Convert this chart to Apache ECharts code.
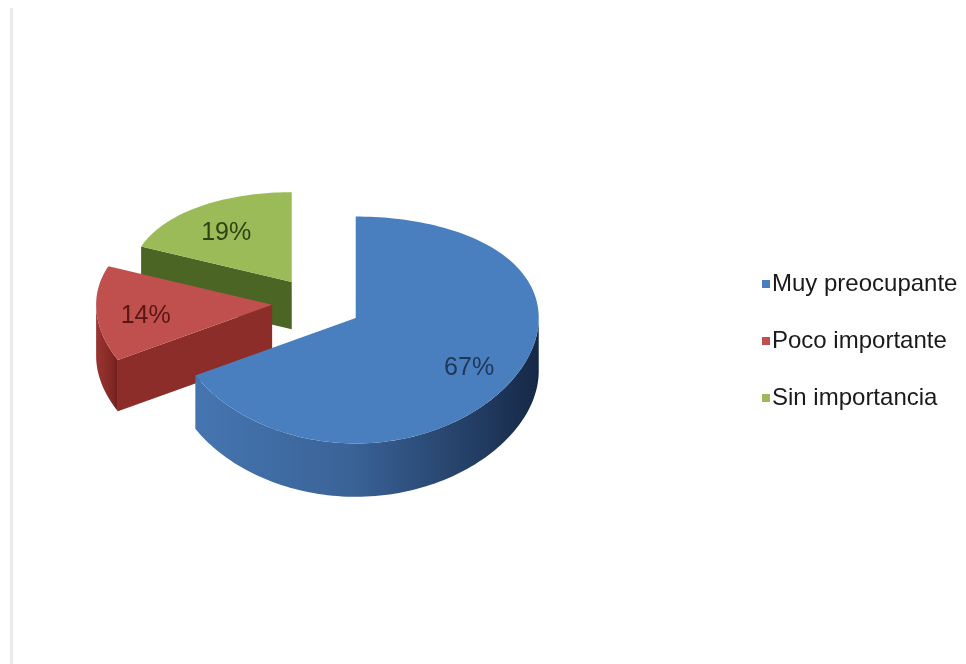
<!DOCTYPE html>
<html>
<head>
<meta charset="utf-8">
<script src="https://cdn.jsdelivr.net/npm/echarts@6/dist/echarts.min.js"></script>
<style>
  html, body { margin: 0; padding: 0; background: #ffffff; }
  #chart { width: 966px; height: 664px; }
</style>
</head>
<body>
<div id="chart"></div>
<script>
// Survey answers and their shares (percent)
const categories = ['Muy preocupante', 'Poco importante', 'Sin importancia'];
const shares = [67, 14, 19];

// Palette: top face, side walls, label ink
const topColors = ['#4a7fbf', '#c0504d', '#9bbb59'];
const wallColors = [
  ['#4575b0', '#3a6398', '#243f66', '#162846'],
  ['#9a3330', '#8c2d2a', '#7f2522', '#6e1f1c'],
  ['#52702a', '#4b6524', '#40581f', '#374c1a']
];
const labelColors = ['#1f3658', '#5a1613', '#2f4214'];

// 3D pie geometry (tilted disc with a touch of perspective)
const CX = 317, CY = 303;
const RAD_X = 175, B_TOP = 97, B_BOT = 120;
const DEPTH = 51, EXPLODE = 0.257, PERSP = 0.09;
const TAU = Math.PI * 2;
const FONT = '"Liberation Sans", Arial, sans-serif';

function bAt(t) {
  return (B_TOP + B_BOT) / 2 - (B_BOT - B_TOP) / 2 * Math.cos(t);
}

const total = shares.reduce((s, v) => s + v, 0);
const slices = [];
let acc = 0;
shares.forEach((v, i) => {
  const t0 = acc / total * TAU;
  acc += v;
  const t1 = acc / total * TAU;
  slices.push({ t0, t1, tm: (t0 + t1) / 2, value: v });
});

function renderSlice(idx) {
  return function (params, api) {
    const sl = slices[idx];
    const tm = sl.tm;
    const front = -Math.cos(tm);
    const s = 1 + PERSP * front;
    const ax = CX + EXPLODE * RAD_X * Math.sin(tm);
    const ay = CY - EXPLODE * bAt(tm) * Math.cos(tm);
    const d = DEPTH * s;
    const pt = (t, r, dy) => [ax + s * r * RAD_X * Math.sin(t), ay - s * r * bAt(t) * Math.cos(t) + dy];
    const arc = (a0, a1, dy) => {
      const n = Math.max(2, Math.ceil(Math.abs(a1 - a0) / (Math.PI / 120)));
      const out = [];
      for (let k = 0; k <= n; k++) out.push(pt(a0 + (a1 - a0) * k / n, 1, dy));
      return out;
    };
    const base = Math.round((front + 1) * 50) * 10;
    const children = [];
    const wc = wallColors[idx];
    const grad = {
      type: 'linear', x: 0, y: 0, x2: 1, y2: 0,
      colorStops: [
        { offset: 0, color: wc[0] }, { offset: 0.45, color: wc[1] },
        { offset: 0.8, color: wc[2] }, { offset: 1, color: wc[3] }
      ]
    };

    // curved outer wall, front half only
    const lo = Math.max(sl.t0, Math.PI / 2), hi = Math.min(sl.t1, Math.PI * 1.5);
    if (hi > lo) {
      const pts = arc(lo, hi, 0).concat(arc(hi, lo, d));
      children.push({ type: 'polygon', z2: base + 1, shape: { points: pts }, style: { fill: grad } });
    }
    // radial cut faces that turn toward the viewer
    const face = (t) => [[ax, ay], pt(t, 1, 0), pt(t, 1, d), [ax, ay + d]];
    if (Math.sin(sl.t0) < -0.01) {
      children.push({ type: 'polygon', z2: base + 2, shape: { points: face(sl.t0) }, style: { fill: wc[1] } });
    }
    if (Math.sin(sl.t1) > 0.01) {
      children.push({ type: 'polygon', z2: base + 2, shape: { points: face(sl.t1) }, style: { fill: wc[1] } });
    }
    // top face
    const topPts = [[ax, ay]].concat(arc(sl.t0, sl.t1, 0));
    children.push({ type: 'polygon', z2: base + 3, shape: { points: topPts }, style: { fill: topColors[idx] } });

    // value label
    const lp = pt(tm, 0.72, 0);
    children.push({
      type: 'text', z2: 2000,
      style: {
        x: lp[0], y: lp[1] + 6,
        text: Math.round(api.value(0)) + '%',
        fill: labelColors[idx],
        font: '25px ' + FONT,
        align: 'center', verticalAlign: 'middle'
      }
    });
    return { type: 'group', children };
  };
}

const chart = echarts.init(document.getElementById('chart'), null, { renderer: 'canvas' });
chart.setOption({
  backgroundColor: '#ffffff',
  animation: false,
  graphic: [{
    type: 'rect', left: 10, top: 8,
    shape: { width: 3, height: 656 },
    style: { fill: '#ebebeb' }
  }],
  legend: {
    orient: 'vertical',
    left: 757, top: 267,
    itemWidth: 8, itemHeight: 8, itemGap: 33,
    icon: 'rect',
    data: categories,
    textStyle: {
      fontFamily: FONT,
      fontSize: 24, lineHeight: 24, color: '#1a1a1a',
      padding: [0, 0, 0, -3]
    }
  },
  series: categories.map((name, i) => ({
    type: 'custom',
    name,
    coordinateSystem: 'none',
    itemStyle: { color: topColors[i] },
    renderItem: renderSlice(i),
    data: [[shares[i]]]
  }))
});
</script>
</body>
</html>
